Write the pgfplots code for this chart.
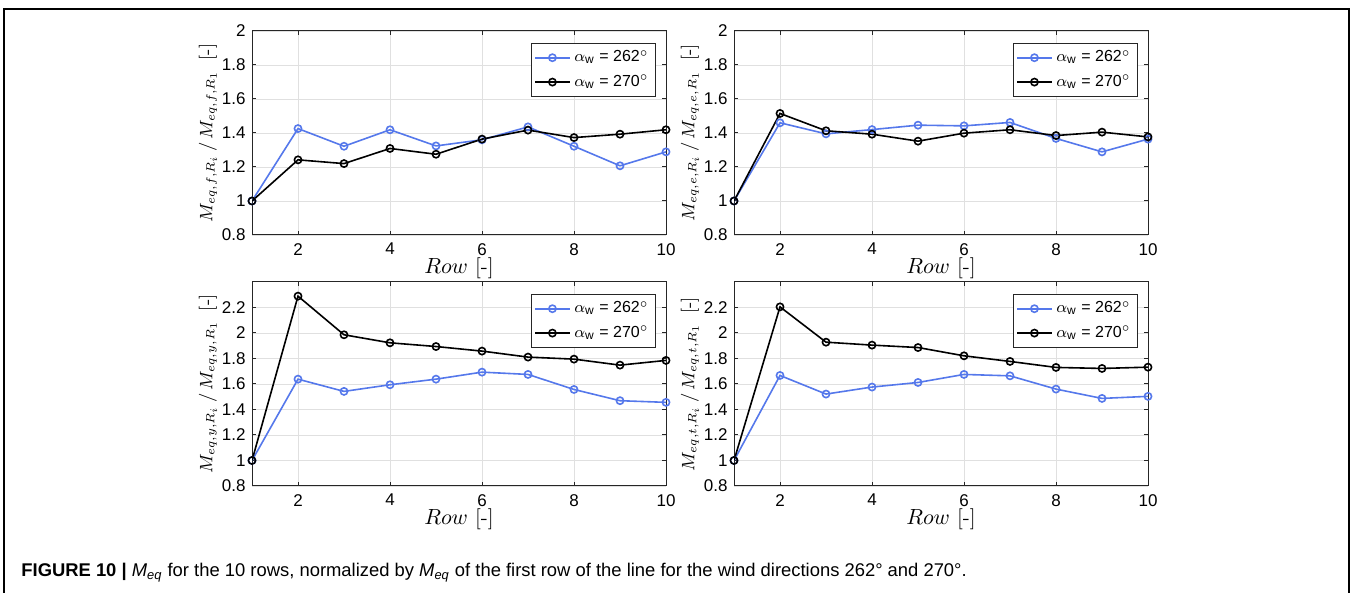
\documentclass[border=0pt]{standalone}
\usepackage{pgfplots}
\pgfplotsset{compat=1.18}
\usepackage{amsmath}
\usepackage{fontspec}
\newfontfamily\arial{Liberation Sans}
\definecolor{mblue}{RGB}{85,120,235}
\pgfplotsset{
  myax/.style={
    scale only axis, width=207pt, height=102pt,
    xmin=1, xmax=10, xtick={2,4,6,8,10},
    grid=major, major grid style={black!12, line width=0.4pt},
    axis line style={black!85, line width=0.5pt},
    tick style={black!85, line width=0.5pt}, major tick length=2.2pt,
    tick align=inside, xtick pos=both, ytick pos=both,
    ticklabel style={font=\arial\fontsize{8.5}{9}\selectfont},
    /pgf/number format/assume math mode=true,
    yticklabel style={xshift=0.3pt},
    xticklabel style={yshift=-0.6pt},
    xlabel={$Row$ [-]},
    xlabel style={at={(axis description cs:0.5,-0.163)}, anchor=center, font=\fontsize{10.5}{12}\selectfont},
    ylabel style={at={(axis description cs:-0.1063,0.5)}, anchor=center, font=\fontsize{9}{11}\selectfont},
    legend cell align=left,
    legend style={at={(axis description cs:0.9758,0.941)}, anchor=north east,
      draw=black!85, line width=0.5pt, fill=white,
      font=\arial\fontsize{8}{9}\selectfont, inner xsep=1.5pt, inner ysep=1.5pt, row sep=1pt},
  },
  topax/.style={myax, ymin=0.8, ymax=2, ytick={0.8,1,1.2,1.4,1.6,1.8,2}},
  botax/.style={myax, ymin=0.8, ymax=2.4, ytick={0.8,1,1.2,1.4,1.6,1.8,2,2.2}},
  bl/.style={color=mblue, line width=0.8pt, mark=o, mark size=1.8pt, mark options={solid}},
  bk/.style={color=black, line width=0.8pt, mark=o, mark size=1.8pt, mark options={solid}},
}
\newcommand{\lega}{$\alpha_{\text{\arial w}}$ = 262$^{\circ}$}
\newcommand{\legb}{$\alpha_{\text{\arial w}}$ = 270$^{\circ}$}
\begin{document}
\begin{tikzpicture}
\useasboundingbox (0,0) rectangle (676pt,296.5pt);
\draw[line width=0.9pt] (2pt,0) -- (2pt,292pt) -- (674.5pt,292pt) -- (674.5pt,0);

\begin{axis}[topax, at={(126pt,179pt)}, anchor=south west,
  ylabel={$M_{eq,f,R_i}\,/\,M_{eq,f,R_1}$\;\;[-]}]
\addplot[bl] coordinates {(1,1.0)(2,1.426)(3,1.322)(4,1.419)(5,1.324)(6,1.36)(7,1.436)(8,1.322)(9,1.207)(10,1.289)};
\addlegendentry{\lega}
\addplot[bk] coordinates {(1,1.0)(2,1.242)(3,1.22)(4,1.309)(5,1.275)(6,1.364)(7,1.417)(8,1.373)(9,1.393)(10,1.419)};
\addlegendentry{\legb}
\end{axis}

\begin{axis}[topax, at={(367pt,179pt)}, anchor=south west,
  ylabel={$M_{eq,e,R_i}\,/\,M_{eq,e,R_1}$\;\;[-]}]
\addplot[bl] coordinates {(1,1.0)(2,1.46)(3,1.395)(4,1.42)(5,1.446)(6,1.442)(7,1.462)(8,1.368)(9,1.289)(10,1.364)};
\addlegendentry{\lega}
\addplot[bk] coordinates {(1,1.0)(2,1.515)(3,1.413)(4,1.393)(5,1.352)(6,1.399)(7,1.419)(8,1.385)(9,1.405)(10,1.377)};
\addlegendentry{\legb}
\end{axis}

\begin{axis}[botax, at={(126pt,53.5pt)}, anchor=south west,
  ylabel={$M_{eq,y,R_i}\,/\,M_{eq,y,R_1}$\;\;[-]}]
\addplot[bl] coordinates {(1,1.0)(2,1.638)(3,1.542)(4,1.594)(5,1.638)(6,1.693)(7,1.675)(8,1.557)(9,1.469)(10,1.456)};
\addlegendentry{\lega}
\addplot[bk] coordinates {(1,1.0)(2,2.289)(3,1.986)(4,1.923)(5,1.894)(6,1.858)(7,1.811)(8,1.795)(9,1.748)(10,1.785)};
\addlegendentry{\legb}
\end{axis}

\begin{axis}[botax, at={(367pt,53.5pt)}, anchor=south west,
  ylabel={$M_{eq,t,R_i}\,/\,M_{eq,t,R_1}$\;\;[-]}]
\addplot[bl] coordinates {(1,1.0)(2,1.667)(3,1.521)(4,1.576)(5,1.612)(6,1.675)(7,1.664)(8,1.56)(9,1.487)(10,1.503)};
\addlegendentry{\lega}
\addplot[bk] coordinates {(1,1.0)(2,2.205)(3,1.928)(4,1.905)(5,1.886)(6,1.821)(7,1.777)(8,1.73)(9,1.722)(10,1.732)};
\addlegendentry{\legb}
\end{axis}

\node[anchor=base west, font=\arial\fontsize{9.2}{10}\selectfont, inner sep=0] at (10.5pt,8pt)
  {{\bfseries FIGURE 10 |} \textit{M}\textsubscript{\textit{eq}} for the 10 rows, normalized by \textit{M}\textsubscript{\textit{eq}} of the first row of the line for the wind directions 262° and 270°.};
\end{tikzpicture}
\end{document}
